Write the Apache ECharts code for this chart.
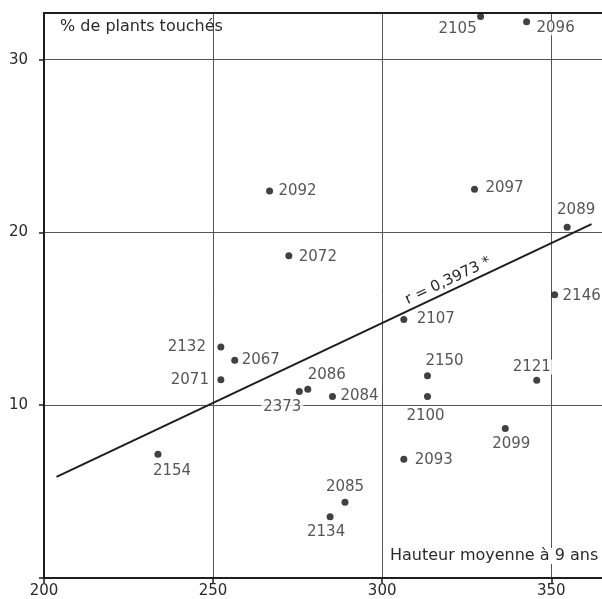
<!DOCTYPE html>
<html>
<head>
<meta charset="utf-8">
<script src="https://cdn.jsdelivr.net/npm/echarts@6/dist/echarts.min.js"></script>
<style>
html,body{margin:0;padding:0;background:#fff;}
#chart{width:602px;height:599px;}
</style>
</head>
<body>
<div id="chart"></div>
<script>
// ---- data ----
const clones = ['2105','2096','2092','2097','2089','2072','2146','2107','2132','2067','2071','2154','2373','2086','2084','2150','2100','2121','2099','2093','2085','2134'];
const hauteur = [329.1,342.7,266.7,327.3,354.7,272.4,351.0,306.4,252.3,256.4,252.3,233.7,275.5,278.0,285.3,313.4,313.4,345.7,336.4,306.4,289.0,284.6];
const touches = [32.5,32.2,22.4,22.5,20.3,18.65,16.4,14.96,13.37,12.6,11.48,7.16,10.8,10.92,10.5,11.71,10.5,11.44,8.65,6.87,4.38,3.54];
const fitX = [203.7, 361.9];
const fitY = [5.85, 20.48];
const xTicks = [200, 250, 300, 350];
const yTicks = [0, 10, 20, 30];
const fitLabel = 'r = 0,3973 *';
const yTitle = '% de plants touchés';
const xTitle = 'Hauteur moyenne à 9 ans';

// label offsets (pixels, from point centre to label centre)
const labelOffset = {
  '2105':[-23,13],'2096':[29,6],'2092':[28,0],'2097':[30,-1],'2089':[9,-17],
  '2072':[29,1],'2146':[27,1],'2107':[32,0],'2132':[-34,0],'2067':[26,0],
  '2071':[-31,0],'2154':[14,17],'2373':[-17,16],'2086':[19,-14],'2084':[27,0],
  '2150':[17,-15],'2100':[-2,20],'2121':[-5,-13],'2099':[6,16],'2093':[30,1],
  '2085':[0,-15],'2134':[-4,15]
};

const FONT = 'DejaVu Sans';
const ink = '#1e1e1e';

const pts = clones.map((n,i)=>({
  name:n,
  value:[hauteur[i], touches[i]],
  label:{show:true, position:'inside', offset:labelOffset[n], formatter:n,
    color:'#2a2a2a', fontFamily:FONT, fontSize:15, backgroundColor:'#fff', padding:[0,2]}
}));

const chart = echarts.init(document.getElementById('chart'), null, {renderer:'canvas'});
const option = {
  animation:false,
  backgroundColor:'#fff',
  grid:{left:44, right:0, top:13, bottom:19},
  xAxis:[{
    type:'value', min:200, max:365, interval:50,
    axisLine:{show:true, lineStyle:{color:ink, width:2}},
    axisTick:{show:true, length:5, customValues:xTicks, lineStyle:{color:ink, width:1.5}},
    axisLabel:{margin:6, color:'#2a2a2a', fontFamily:FONT, fontSize:15, customValues:xTicks},
    splitLine:{show:true, lineStyle:{color:'#555', width:1}}
  },{
    type:'value', position:'top', min:200, max:365,
    axisLine:{show:true, onZero:false, lineStyle:{color:ink, width:2}},
    axisTick:{show:false}, axisLabel:{show:false}, splitLine:{show:false}
  }],
  yAxis:{
    type:'value', min:0, max:32.7, interval:10,
    axisLine:{show:true, lineStyle:{color:ink, width:2}},
    axisTick:{show:true, length:5, customValues:yTicks, lineStyle:{color:ink, width:1.5}},
    axisLabel:{margin:16, color:'#2a2a2a', fontFamily:FONT, fontSize:15,
      customValues:yTicks, formatter:v=> v===0 ? '' : String(v)},
    splitLine:{show:true, lineStyle:{color:'#555', width:1}}
  },
  series:[{
    type:'line', data:fitX.map((x,i)=>[x, fitY[i]]), symbol:'none',
    lineStyle:{color:ink, width:2}, z:2, silent:true
  },{
    type:'scatter', data:pts, symbolSize:7,
    itemStyle:{color:'#111'}, z:3
  }]
};
chart.setOption(option);

// fit-line label, placed along the regression line
const pA = chart.convertToPixel({gridIndex:0}, [fitX[0], fitY[0]]);
const pB = chart.convertToPixel({gridIndex:0}, [fitX[1], fitY[1]]);
const ang = Math.atan2(pB[1]-pA[1], pB[0]-pA[0]);
const t = 0.74;
const cx = pA[0] + (pB[0]-pA[0])*t + Math.sin(ang)*10;
const cy = pA[1] + (pB[1]-pA[1])*t - Math.cos(ang)*10;

chart.setOption({
  graphic:[
    {type:'text', x:cx, y:cy, rotation:-ang, z:10,
      style:{text:fitLabel, fill:'#2a2a2a', font:'15px "'+FONT+'"', align:'center', verticalAlign:'middle'}},
    {type:'text', left:60, top:19, z:10,
      style:{text:yTitle, fill:'#2a2a2a', font:'16px "'+FONT+'"'}},
    {type:'text', left:390, top:548, z:10,
      style:{text:xTitle, fill:'#2a2a2a', font:'16px "'+FONT+'"', backgroundColor:'#fff'}}
  ]
});
</script>
</body>
</html>
